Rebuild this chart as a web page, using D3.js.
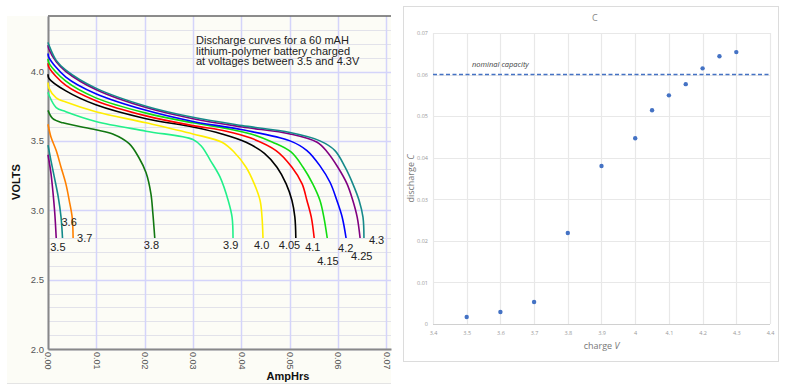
<!DOCTYPE html>
<html>
<head>
<meta charset="utf-8">
<script src="https://cdn.jsdelivr.net/npm/d3@7"></script>
<style>
body { margin: 0; background: #fff; }
svg { display: block; }
</style>
</head>
<body>
<svg width="788" height="391"></svg>
<script>
// ---- data: discharge runs, [AmpHrs, volts]
var run35  = [[0,3.40],[0.0006,3.27],[0.0010,3.14],[0.0014,2.98],[0.0017,2.80]];
var run36  = [[0,3.47],[0.0006,3.36],[0.0013,3.24],[0.0021,3.10],[0.0027,2.95],[0.0030,2.80]];
var run37  = [[0,3.62],[0.0006,3.53],[0.0017,3.43],[0.0027,3.31],[0.0037,3.19],[0.0044,3.07],[0.0050,2.95],[0.0052,2.80]];
var run38  = [[0,3.72],[0.0010,3.66],[0.0031,3.63],[0.0099,3.58],[0.0134,3.55],[0.0168,3.48],[0.0188,3.38],[0.0203,3.27],[0.0213,3.12],[0.0217,2.98],[0.0221,2.80]];
var run39  = [[0,3.85],[0.0002,3.83],[0.0017,3.74],[0.0037,3.71],[0.0099,3.64],[0.0203,3.57],[0.0300,3.51],[0.0318,3.46],[0.0336,3.36],[0.0356,3.24],[0.0373,3.07],[0.0381,2.95],[0.0383,2.80]];
var run40  = [[0,3.92],[0.0002,3.88],[0.0017,3.81],[0.0037,3.78],[0.0099,3.71],[0.0203,3.63],[0.0300,3.55],[0.0360,3.49],[0.0385,3.42],[0.0410,3.31],[0.0427,3.19],[0.0439,3.07],[0.0443,2.95],[0.0445,2.80]];
var run405 = [[0,3.98],[0.0002,3.95],[0.0037,3.86],[0.0099,3.76],[0.0203,3.66],[0.0300,3.60],[0.0360,3.55],[0.0410,3.49],[0.0448,3.41],[0.0474,3.31],[0.0493,3.19],[0.0505,3.07],[0.0511,2.95],[0.0513,2.80]];
var run41  = [[0,4.06],[0.0002,4.03],[0.0037,3.90],[0.0099,3.79],[0.0203,3.68],[0.0300,3.61],[0.0369,3.57],[0.0420,3.52],[0.0472,3.43],[0.0505,3.31],[0.0526,3.19],[0.0536,3.07],[0.0545,2.95],[0.0551,2.80]];
var run415 = [[0,4.09],[0.0002,4.06],[0.0037,3.93],[0.0099,3.81],[0.0203,3.70],[0.0300,3.63],[0.0369,3.59],[0.0420,3.55],[0.0465,3.49],[0.0503,3.42],[0.0528,3.31],[0.0548,3.19],[0.0563,3.07],[0.0571,2.95],[0.0578,2.80]];
var run42  = [[0,4.13],[0.0002,4.10],[0.0037,3.96],[0.0099,3.84],[0.0203,3.72],[0.0300,3.64],[0.0402,3.58],[0.0501,3.50],[0.0536,3.43],[0.0563,3.32],[0.0584,3.20],[0.0598,3.07],[0.0609,2.95],[0.0617,2.80]];
var run425 = [[0,4.19],[0.0002,4.16],[0.0017,4.07],[0.0037,4.00],[0.0099,3.87],[0.0203,3.74],[0.0300,3.66],[0.0402,3.60],[0.0501,3.55],[0.0557,3.49],[0.0578,3.42],[0.0600,3.31],[0.0619,3.19],[0.0631,3.07],[0.0640,2.95],[0.0646,2.80]];
var run43  = [[0,4.21],[0.0002,4.19],[0.0017,4.08],[0.0037,4.01],[0.0099,3.88],[0.0203,3.75],[0.0300,3.67],[0.0402,3.61],[0.0501,3.56],[0.0563,3.50],[0.0594,3.43],[0.0615,3.31],[0.0631,3.19],[0.0644,3.07],[0.0652,2.95],[0.0654,2.80]];

var runs = [run35, run36, run37, run38, run39, run40, run405, run41, run415, run42, run425, run43];
var runLabels = ["3.5","3.6","3.7","3.8","3.9","4.0","4.05","4.1","4.15","4.2","4.25","4.3"];

// ---- data: right chart (discharge capacity vs charge voltage)
var chargeV    = [3.5, 3.6, 3.7, 3.8, 3.9, 4.0, 4.05, 4.1, 4.15, 4.2, 4.25, 4.3];
var dischargeC = [0.0017, 0.0029, 0.0053, 0.0219, 0.0380, 0.0447, 0.0514, 0.0550, 0.0577, 0.0615, 0.0644, 0.0654];
var nominalC = 0.06;

// ---- tick values
var voltTicks  = [2.0, 2.5, 3.0, 3.5, 4.0];
var voltMinor  = d3.range(20, 44).map(function(d){ return d / 10; });
var ampTicks   = [0, 0.01, 0.02, 0.03, 0.04, 0.05, 0.06, 0.07];
var cTicks     = [0, 0.01, 0.02, 0.03, 0.04, 0.05, 0.06, 0.07];
var vTicks     = [3.4, 3.5, 3.6, 3.7, 3.8, 3.9, 4.0, 4.1, 4.2, 4.3, 4.4];

// ---- styles (kept apart from the data)
var runColors = ["#800080","#138a8a","#ff8000","#117711","#22f08a","#ffee00",
                 "#000000","#ff0000","#11dd11","#0000ff","#800080","#168a8a"];
// label offsets from each curve's end point (px)
var labelOffset = [[-6,13],[-1,-12],[4,4],[-11,11],[-10,11],[-9,11],[-17,11],[-9,13],[-10,27],[-8,14],[-9,22],[5,6]];

var svg = d3.select("svg");

// ================= LEFT CHART =================
var L = {left: 48, right: 391, top: 16, bottom: 349};
var xL = d3.scaleLinear().domain([0, 0.071]).range([L.left, L.right]);
var yL = d3.scaleLinear().domain([2.0, 4.4]).range([L.bottom, L.top]);

var left = svg.append("g").attr("class", "left");

left.append("rect")
	.attr("x", 7).attr("y", L.top)
	.attr("width", L.right - 7).attr("height", 383 - L.top)
	.attr("fill", "#fcfcf6");

left.append("line")
	.attr("x1", 7).attr("x2", L.right).attr("y1", 383.5).attr("y2", 383.5)
	.attr("stroke", "#e4e4e4");

// minor horizontal grid
left.selectAll("line.minor")
	.data(voltMinor.filter(function(d){ return voltTicks.indexOf(d) < 0; }))
	.enter().append("line")
		.attr("class", "minor")
		.attr("x1", L.left).attr("x2", L.right)
		.attr("y1", function(d){ return Math.round(yL(d)) + 0.5; })
		.attr("y2", function(d){ return Math.round(yL(d)) + 0.5; })
		.attr("stroke", "#e2e2ea");

// major horizontal grid
left.selectAll("line.hmajor")
	.data(voltTicks)
	.enter().append("line")
		.attr("class", "hmajor")
		.attr("x1", L.left).attr("x2", L.right)
		.attr("y1", function(d){ return Math.round(yL(d)) + 0.5; })
		.attr("y2", function(d){ return Math.round(yL(d)) + 0.5; })
		.attr("stroke", "#d4d4fa").attr("stroke-width", 1.5);

// vertical grid
left.selectAll("line.vmajor")
	.data(ampTicks)
	.enter().append("line")
		.attr("class", "vmajor")
		.attr("y1", L.top).attr("y2", L.bottom)
		.attr("x1", function(d){ return Math.round(xL(d)) + 0.5; })
		.attr("x2", function(d){ return Math.round(xL(d)) + 0.5; })
		.attr("stroke", "#d4d4fa").attr("stroke-width", 1.5);

// frame
left.append("line")
	.attr("x1", L.left).attr("x2", L.right).attr("y1", L.top).attr("y2", L.top)
	.attr("stroke", "#666").attr("stroke-width", 1.5);

// y axis
var yAxisL = left.append("g")
	.attr("transform", "translate(" + L.left + ",0)")
	.call(d3.axisLeft(yL).tickValues(voltTicks).tickFormat(d3.format(".1f")).tickSize(0).tickPadding(4));
yAxisL.select(".domain").attr("stroke", "#888").attr("stroke-width", 2);
yAxisL.selectAll("text")
	.attr("fill", "#555")
	.style("font", "9.5px 'Liberation Sans', Arial, sans-serif");

// x axis with rotated labels
var xAxisL = left.append("g")
	.attr("transform", "translate(0," + L.bottom + ")")
	.call(d3.axisBottom(xL).tickValues(ampTicks).tickFormat(d3.format(".2f")).tickSize(0));
xAxisL.select(".domain").attr("stroke", "#888").attr("stroke-width", 2);
xAxisL.selectAll("text")
	.attr("y", 0).attr("x", 3).attr("dy", "0.35em")
	.attr("transform", "rotate(90)")
	.style("text-anchor", "start")
	.attr("fill", "#555")
	.style("font", "9px 'Liberation Sans', Arial, sans-serif");

// curves
var line = d3.line()
	.x(function(d){ return xL(d[0]); })
	.y(function(d){ return yL(d[1]); })
	.curve(d3.curveCatmullRom.alpha(0.5));

left.selectAll("path.run")
	.data(runs)
	.enter().append("path")
		.attr("class", "run")
		.attr("d", line)
		.attr("fill", "none")
		.attr("stroke", function(d, i){ return runColors[i]; })
		.attr("stroke-width", 1.6);

// end labels
left.selectAll("text.runlabel")
	.data(runs)
	.enter().append("text")
		.attr("class", "runlabel")
		.attr("x", function(d, i){ return xL(d[d.length - 1][0]) + labelOffset[i][0]; })
		.attr("y", function(d, i){ return yL(d[d.length - 1][1]) + labelOffset[i][1]; })
		.text(function(d, i){ return runLabels[i]; })
		.attr("fill", "#222")
		.style("font", "11px 'Liberation Sans', Arial, sans-serif");

// annotation
var note = ["Discharge curves for a 60 mAH",
            "lithium-polymer battery charged",
            "at voltages between 3.5 and 4.3V"];
left.selectAll("text.note")
	.data(note)
	.enter().append("text")
		.attr("class", "note")
		.attr("x", 196)
		.attr("y", function(d, i){ return 44 + i * 10.6; })
		.text(function(d){ return d; })
		.attr("fill", "#222")
		.style("font", "11px 'Liberation Sans', Arial, sans-serif");

left.append("text")
	.attr("transform", "translate(20,182) rotate(-90)")
	.attr("text-anchor", "middle")
	.text("VOLTS")
	.attr("fill", "#111")
	.style("font", "bold 11px 'Liberation Sans', Arial, sans-serif");

left.append("text")
	.attr("x", 288).attr("y", 380)
	.attr("text-anchor", "middle")
	.text("AmpHrs")
	.attr("fill", "#111")
	.style("font", "bold 11px 'Liberation Sans', Arial, sans-serif");

// ================= RIGHT CHART =================
var R = {left: 433, right: 770, top: 33, bottom: 324};
var xR = d3.scaleLinear().domain([3.4, 4.4]).range([R.left, R.right]);
var yR = d3.scaleLinear().domain([0, 0.07]).range([R.bottom, R.top]);

var right = svg.append("g").attr("class", "right");

right.append("rect")
	.attr("x", 403.5).attr("y", 6.5).attr("width", 375).attr("height", 355)
	.attr("fill", "#fff").attr("stroke", "#dcdcdc");

right.append("text")
	.attr("x", 592).attr("y", 21)
	.text("C")
	.attr("fill", "#888")
	.style("font", "9px 'Open Sans', sans-serif");

// grid
right.selectAll("line.hg")
	.data(cTicks)
	.enter().append("line")
		.attr("class", "hg")
		.attr("x1", R.left).attr("x2", R.right)
		.attr("y1", function(d){ return Math.round(yR(d)) + 0.5; })
		.attr("y2", function(d){ return Math.round(yR(d)) + 0.5; })
		.attr("stroke", function(d){ return d === 0 ? "#d0d0d0" : "#e8e8e8"; })
		.attr("stroke-width", 1.2);

right.selectAll("line.vg")
	.data(vTicks)
	.enter().append("line")
		.attr("class", "vg")
		.attr("y1", R.top).attr("y2", R.bottom)
		.attr("x1", function(d){ return Math.round(xR(d)) + 0.5; })
		.attr("x2", function(d){ return Math.round(xR(d)) + 0.5; })
		.attr("stroke", "#e8e8e8").attr("stroke-width", 1.2);

var yAxisR = right.append("g")
	.attr("transform", "translate(" + R.left + ",0)")
	.call(d3.axisLeft(yR).tickValues(cTicks).tickFormat(function(d){ return d === 0 ? "0" : d3.format(".2f")(d); }).tickSize(0).tickPadding(5));
yAxisR.select(".domain").remove();
yAxisR.selectAll("text").attr("fill", "#999").style("font", "5.5px 'Open Sans', sans-serif");

var xAxisR = right.append("g")
	.attr("transform", "translate(0," + R.bottom + ")")
	.call(d3.axisBottom(xR).tickValues(vTicks).tickFormat(d3.format("~g")).tickSize(0).tickPadding(7));
xAxisR.select(".domain").remove();
xAxisR.selectAll("text").attr("fill", "#999").style("font", "5.5px 'Open Sans', sans-serif");

// nominal capacity line
right.append("line")
	.attr("x1", R.left).attr("x2", R.right)
	.attr("y1", yR(nominalC)).attr("y2", yR(nominalC))
	.attr("stroke", "#4472c4").attr("stroke-width", 1.4)
	.attr("stroke-dasharray", "4,2.5");

right.append("text")
	.attr("x", 472).attr("y", 67)
	.text("nominal capacity")
	.attr("fill", "#444")
	.style("font", "italic 7.5px 'Open Sans', sans-serif");

// points
right.selectAll("circle.pt")
	.data(chargeV)
	.enter().append("circle")
		.attr("class", "pt")
		.attr("cx", function(d){ return xR(d); })
		.attr("cy", function(d, i){ return yR(dischargeC[i]); })
		.attr("r", 2.2)
		.attr("fill", "#4472c4");

// axis titles
var yt = right.append("text")
	.attr("transform", "translate(414," + ((R.top + R.bottom) / 2) + ") rotate(-90)")
	.attr("text-anchor", "middle")
	.attr("fill", "#777")
	.style("font", "9px 'Open Sans', sans-serif");
yt.append("tspan").text("discharge ");
yt.append("tspan").style("font-style", "italic").text("C");

var xt = right.append("text")
	.attr("x", (R.left + R.right) / 2).attr("y", 349)
	.attr("text-anchor", "middle")
	.attr("fill", "#777")
	.style("font", "9px 'Open Sans', sans-serif");
xt.append("tspan").text("charge ");
xt.append("tspan").style("font-style", "italic").text("V");
</script>
</body>
</html>
